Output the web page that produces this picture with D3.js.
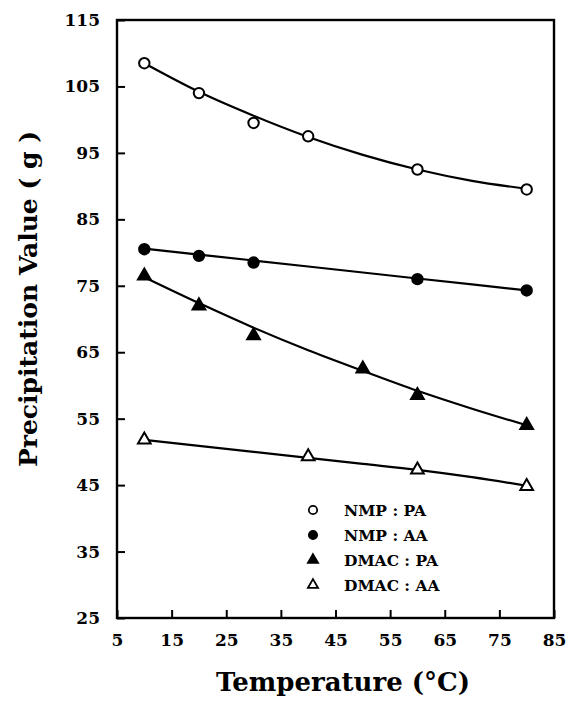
<!DOCTYPE html>
<html>
<head>
<meta charset="utf-8">
<script src="https://cdn.jsdelivr.net/npm/d3@7"></script>
<style>
  body { margin: 0; background: #fff; }
  text { font-family: "DejaVu Serif", serif; font-weight: bold; fill: #000; }
</style>
</head>
<body>
<div id="chart"></div>
<script>
// Measured points
const nmpPaT = [10, 20, 30, 40, 60, 80];
const nmpPa = [108.5, 104, 99.5, 97.5, 92.5, 89.5];
const nmpAaT = [10, 20, 30, 60, 80];
const nmpAa = [80.5, 79.5, 78.5, 76, 74.3];
const dmacPaT = [10, 20, 30, 50, 60, 80];
const dmacPa = [76.5, 72, 67.5, 62.5, 58.5, 54];
const dmacAaT = [10, 40, 60, 80];
const dmacAa = [51.8, 49.3, 47.3, 44.8];

// Fitted curves, sampled every 10 degrees
const fitT = [10, 20, 30, 40, 50, 60, 70, 80];
const nmpPaFit = [108.5, 104.2, 100.6, 97.4, 94.7, 92.5, 90.8, 89.6];
const nmpAaFit = [80.6, 79.7, 78.8, 77.9, 77.0, 76.1, 75.2, 74.3];
const dmacPaFit = [76.3, 72.4, 68.7, 65.3, 62.2, 59.2, 56.5, 54.0];
const dmacAaFit = [51.8, 50.9, 50.0, 49.1, 48.2, 47.3, 46.2, 44.9];

const xTicks = [5, 15, 25, 35, 45, 55, 65, 75, 85];
const yTicks = [25, 35, 45, 55, 65, 75, 85, 95, 105, 115];
const legendLabels = ["NMP : PA", "NMP : AA", "DMAC : PA", "DMAC : AA"];

const width = 568, height = 704;
const plotL = 117, plotR = 554, plotT = 20, plotB = 618;

const x = d3.scaleLinear().domain([5, 85]).range([plotL, plotR]);
const y = d3.scaleLinear().domain([25, 115]).range([plotB, plotT]);

const svg = d3.select("#chart").append("svg")
  .attr("width", width)
  .attr("height", height);

// frame
svg.append("rect")
  .attr("x", plotL).attr("y", plotT)
  .attr("width", plotR - plotL).attr("height", plotB - plotT)
  .attr("fill", "none").attr("stroke", "#000").attr("stroke-width", 2.4);

const xAxis = svg.append("g")
  .attr("transform", "translate(0," + plotB + ")")
  .call(d3.axisBottom(x).tickValues(xTicks).tickSizeInner(-8).tickSizeOuter(0).tickPadding(16));
xAxis.select(".domain").remove();
xAxis.selectAll("line").attr("stroke-width", 2);
xAxis.selectAll("text").style("font-size", "17px").attr("fill", "#000");

const yAxis = svg.append("g")
  .attr("transform", "translate(" + plotL + ",0)")
  .call(d3.axisLeft(y).tickValues(yTicks).tickSizeInner(-8).tickSizeOuter(0).tickPadding(17));
yAxis.select(".domain").remove();
yAxis.selectAll("line").attr("stroke-width", 2);
yAxis.selectAll("text").style("font-size", "17px").attr("fill", "#000");

// axis titles
svg.append("text")
  .attr("x", 343).attr("y", 691)
  .attr("text-anchor", "middle")
  .style("font-size", "26px")
  .text("Temperature (°C)");

svg.append("text")
  .attr("transform", "translate(37,299) rotate(-90)")
  .attr("text-anchor", "middle")
  .style("font-size", "25px")
  .text("Precipitation Value ( g )");

const line = d3.line()
  .x(d => x(d[0]))
  .y(d => y(d[1]))
  .curve(d3.curveMonotoneX);

const fits = [nmpPaFit, nmpAaFit, dmacPaFit, dmacAaFit];
fits.forEach(f => {
  svg.append("path")
    .datum(fitT.map((t, i) => [t, f[i]]))
    .attr("fill", "none")
    .attr("stroke", "#000")
    .attr("stroke-width", 2.2)
    .attr("d", line);
});

const circleSym = d3.symbol().type(d3.symbolCircle).size(85);
const triSym = d3.symbol().type(d3.symbolTriangle).size(70);

function drawMarks(ts, vs, sym, filled) {
  svg.append("g").selectAll("path")
    .data(ts.map((t, i) => [t, vs[i]]))
    .join("path")
    .attr("transform", d => "translate(" + x(d[0]) + "," + y(d[1]) + ")")
    .attr("d", sym)
    .attr("fill", filled ? "#000" : "#fff")
    .attr("stroke", "#000")
    .attr("stroke-width", 2);
}

drawMarks(nmpPaT, nmpPa, circleSym, false);
drawMarks(nmpAaT, nmpAa, circleSym, true);
drawMarks(dmacPaT, dmacPa, triSym, true);
drawMarks(dmacAaT, dmacAa, triSym, false);

// legend
const legendSyms = [[circleSym, false], [circleSym, true], [triSym, true], [triSym, false]];
const lg = svg.append("g");
legendLabels.forEach((lab, i) => {
  const ly = 510 + i * 25;
  const s = legendSyms[i];
  lg.append("path")
    .attr("transform", "translate(313," + ly + ") scale(0.8)")
    .attr("d", s[0])
    .attr("fill", s[1] ? "#000" : "#fff")
    .attr("stroke", "#000")
    .attr("stroke-width", 2.2);
  lg.append("text")
    .attr("x", 344).attr("y", ly + 6)
    .style("font-size", "15.5px")
    .text(lab);
});
</script>
</body>
</html>
